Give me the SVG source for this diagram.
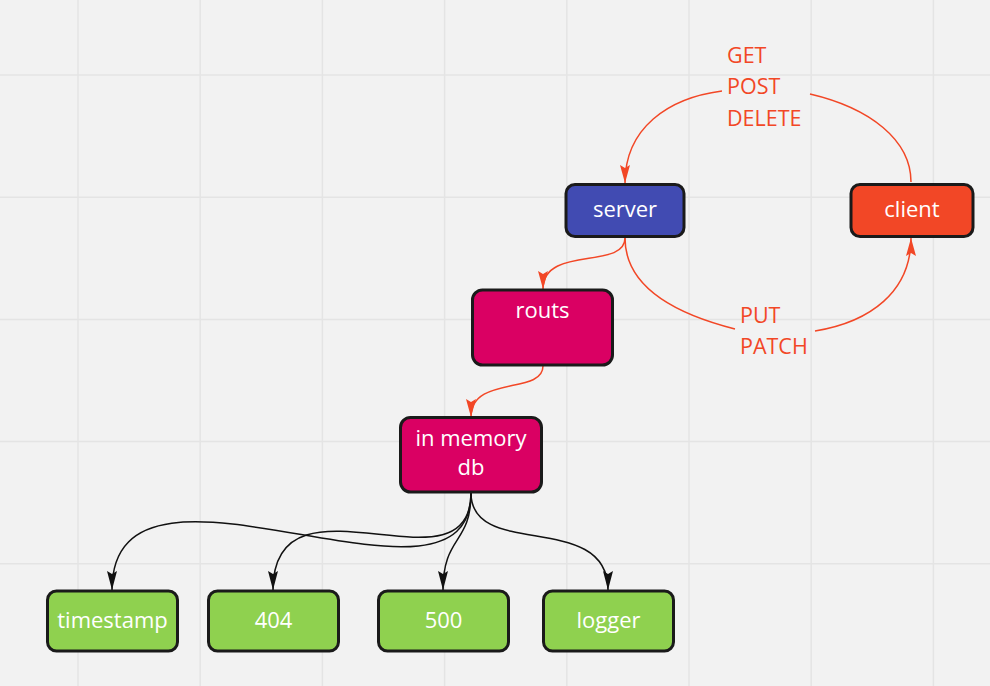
<svg xmlns="http://www.w3.org/2000/svg" width="990" height="686" viewBox="0 0 990 686">
<defs>
<style>
.grid line{stroke:#e4e4e4;stroke-width:1.5}
.node rect{stroke:#1a1a1a;stroke-width:3}
.nt{font-family:"Open Sans","Noto Sans",sans-serif;font-size:22px;fill:#ffffff;text-anchor:middle}
.lbl{font-family:"Open Sans","Noto Sans",sans-serif;font-size:21.5px;fill:#f24726}
.red{fill:none;stroke:#f24726;stroke-width:1.5}
.blk{fill:none;stroke:#111111;stroke-width:1.5}
</style>
<marker id="ar" viewBox="0 0 18 10" refX="18" refY="5" markerWidth="18" markerHeight="10" markerUnits="userSpaceOnUse" orient="auto">
<path d="M0,0 L18,5 L0,10 L3,5 Z" fill="#f24726"/>
</marker>
<marker id="ab" viewBox="0 0 19 10" refX="19" refY="5" markerWidth="19" markerHeight="10" markerUnits="userSpaceOnUse" orient="auto">
<path d="M0,0 L19,5 L0,10 L3,5 Z" fill="#111111"/>
</marker>
</defs>
<rect x="0" y="0" width="990" height="686" fill="#f2f2f2"/>
<g class="grid">
<line x1="78" y1="0" x2="78" y2="686"/>
<line x1="200.2" y1="0" x2="200.2" y2="686"/>
<line x1="322.4" y1="0" x2="322.4" y2="686"/>
<line x1="444.6" y1="0" x2="444.6" y2="686"/>
<line x1="566.8" y1="0" x2="566.8" y2="686"/>
<line x1="689" y1="0" x2="689" y2="686"/>
<line x1="811.2" y1="0" x2="811.2" y2="686"/>
<line x1="933.4" y1="0" x2="933.4" y2="686"/>
<line x1="0" y1="75" x2="990" y2="75"/>
<line x1="0" y1="197.2" x2="990" y2="197.2"/>
<line x1="0" y1="319.4" x2="990" y2="319.4"/>
<line x1="0" y1="441.6" x2="990" y2="441.6"/>
<line x1="0" y1="563.8" x2="990" y2="563.8"/>
</g>
<g id="connectors">
<path class="red" d="M 911 182 C 911 140, 870 108, 810 94"/>
<path class="red" d="M 722 91 C 668 98, 625 128, 625 183" marker-end="url(#ar)"/>
<path class="red" d="M 625 238 C 625 290, 680 315, 735 329"/>
<path class="red" d="M 815 331 C 870 322, 911 292, 911 238" marker-end="url(#ar)"/>
<path class="red" d="M 625 238 C 625 270, 543 245, 543 289" marker-end="url(#ar)"/>
<path class="red" d="M 543 366 C 543 395, 471 375, 471 417" marker-end="url(#ar)"/>
<path class="blk" d="M 471 493 C 471 640, 112 420, 112 590" marker-end="url(#ab)"/>
<path class="blk" d="M 471 493 C 471 600, 273 462, 273 590" marker-end="url(#ab)"/>
<path class="blk" d="M 471 493 C 471 545, 443 535, 443 590" marker-end="url(#ab)"/>
<path class="blk" d="M 471 493 C 471 560, 608 510, 608 590" marker-end="url(#ab)"/>
<text class="lbl" x="727" y="62.5">GET</text>
<text class="lbl" x="727" y="94">POST</text>
<text class="lbl" x="727" y="125.5">DELETE</text>
<text class="lbl" x="740" y="322.5">PUT</text>
<text class="lbl" x="740" y="354">PATCH</text>
</g>
<g id="server" class="node">
<rect x="566" y="184.5" width="118" height="52" rx="9" fill="#414bb2"/>
<text class="nt" x="625" y="216.5">server</text>
</g>
<g id="client" class="node">
<rect x="851" y="184.5" width="122" height="52" rx="9" fill="#f24726"/>
<text class="nt" x="912" y="216.5">client</text>
</g>
<g id="routs" class="node">
<rect x="472.5" y="290" width="140" height="75" rx="10" fill="#da0063"/>
<text class="nt" x="542.5" y="317.5">routs</text>
</g>
<g id="db" class="node">
<rect x="400.5" y="417.5" width="141" height="74.5" rx="10" fill="#da0063"/>
<text class="nt" x="471" y="445.5">in memory</text>
<text class="nt" x="471" y="475">db</text>
</g>
<g id="timestamp" class="node">
<rect x="47.5" y="591" width="130" height="60" rx="9" fill="#8fd14f"/>
<text class="nt" x="112.5" y="627.5">timestamp</text>
</g>
<g id="n404" class="node">
<rect x="208.5" y="591" width="130" height="60" rx="9" fill="#8fd14f"/>
<text class="nt" x="273.5" y="627.5">404</text>
</g>
<g id="n500" class="node">
<rect x="378.5" y="591" width="130" height="60" rx="9" fill="#8fd14f"/>
<text class="nt" x="443.5" y="627.5">500</text>
</g>
<g id="logger" class="node">
<rect x="543.5" y="591" width="130" height="60" rx="9" fill="#8fd14f"/>
<text class="nt" x="608.5" y="627.5">logger</text>
</g>
</svg>
